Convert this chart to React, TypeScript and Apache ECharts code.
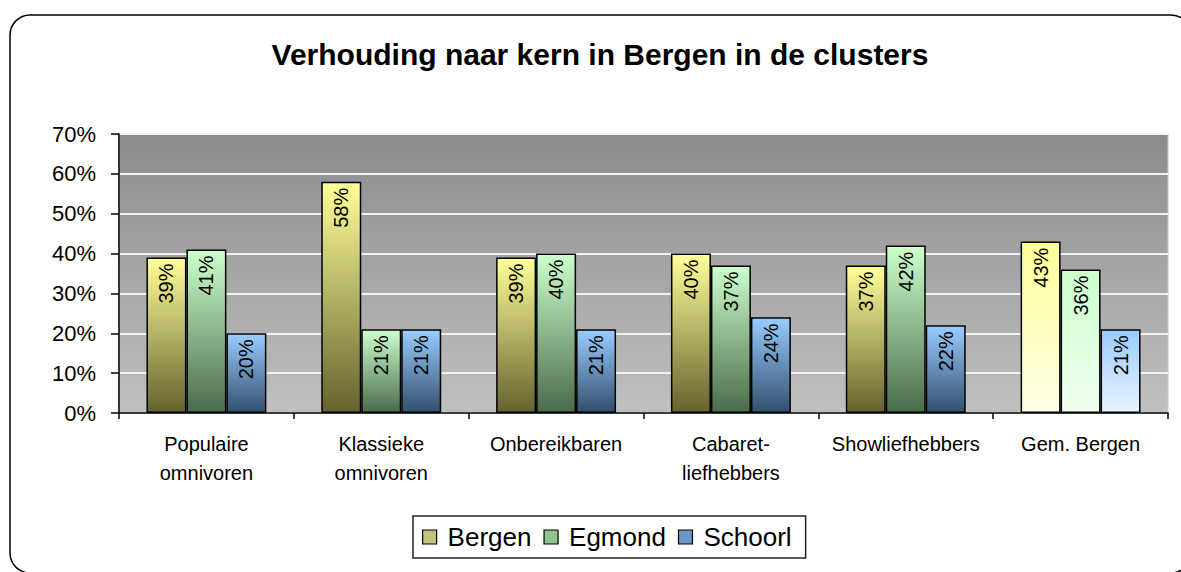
import React, { useEffect, useRef } from "react";
import * as echarts from "echarts";

const categories = [
  "Populaire\nomnivoren",
  "Klassieke\nomnivoren",
  "Onbereikbaren",
  "Cabaret-\nliefhebbers",
  "Showliefhebbers",
  "Gem. Bergen",
];
const bergen = [39, 58, 39, 40, 37, 43];
const egmond = [41, 21, 40, 37, 42, 36];
const schoorl = [20, 21, 21, 24, 22, 21];
const yTicks = [0, 10, 20, 30, 40, 50, 60, 70];

const FONT = "'Liberation Sans', Arial, sans-serif";

const grad = (top: string, bottom: string) =>
  new echarts.graphic.LinearGradient(0, 0, 0, 1, [
    { offset: 0, color: top },
    { offset: 1, color: bottom },
  ]);

const seriesDefs = [
  { name: "Bergen", values: bergen, top: "#ffff99", bottom: "#66622f", lastBottom: "#ffffe8", legend: "#c4c47a" },
  { name: "Egmond", values: egmond, top: "#ccffcc", bottom: "#4b6b4b", lastBottom: "#f0fff0", legend: "#8ec48e" },
  { name: "Schoorl", values: schoorl, top: "#99ccff", bottom: "#33506e", lastBottom: "#e8f3ff", legend: "#6c96c6" },
];

export default function App() {
  const ref = useRef<HTMLDivElement>(null);
  useEffect(() => {
    document.body.style.margin = "0";
    const chart = echarts.init(ref.current!, undefined, { renderer: "svg" });
    const last = categories.length - 1;
    chart.setOption({
      animation: false,
      backgroundColor: "#ffffff",
      textStyle: { fontFamily: FONT },
      grid: {
        left: 119,
        right: 13,
        top: 134,
        bottom: 159,
        containLabel: false,
        show: true,
        backgroundColor: grad("#8c8c8c", "#c0c0c0"),
        borderColor: "#c8c8c8",
        borderWidth: 1,
      },
      graphic: [
        {
          type: "rect",
          shape: { x: 10, y: 15, width: 1181, height: 558, r: 20 },
          style: { fill: "none", stroke: "#000", lineWidth: 1.5 },
          z: 100,
        },
        {
          type: "text",
          x: 600,
          y: 54,
          style: {
            text: "Verhouding naar kern in Bergen in de clusters",
            textAlign: "center",
            textVerticalAlign: "middle",
            font: `bold 30px ${FONT}`,
            fill: "#000",
          },
        },
      ],
      legend: {
        left: 413,
        top: 516,
        padding: [8, 14, 8, 9],
        borderColor: "#222",
        borderWidth: 1.5,
        itemWidth: 14,
        itemHeight: 14,
        itemGap: 12,
        icon: "rect",
        textStyle: { fontSize: 26, color: "#000", fontFamily: FONT, padding: [0, 0, 0, 6] },
        data: seriesDefs.map((s) => ({
          name: s.name,
          itemStyle: { color: s.legend, borderColor: "#000", borderWidth: 1.2 },
        })),
      },
      xAxis: {
        type: "category",
        data: categories,
        axisLine: { lineStyle: { color: "#000", width: 1.5 } },
        axisTick: { show: true, length: 6, lineStyle: { color: "#000", width: 1.5 } },
        axisLabel: { fontSize: 20, lineHeight: 29, color: "#000", margin: 16, interval: 0, fontFamily: FONT },
      },
      yAxis: {
        type: "value",
        min: 0,
        max: 70,
        interval: 10,
        axisLine: { show: true, lineStyle: { color: "#000", width: 1.5 } },
        axisTick: { show: true, length: 8, lineStyle: { color: "#000", width: 1.5 } },
        axisLabel: {
          fontSize: 22,
          color: "#000",
          margin: 23,
          fontFamily: FONT,
          formatter: (v: number) => (yTicks.includes(v) ? v + "%" : ""),
        },
        splitLine: { show: true, lineStyle: { color: "#f2f2f2", width: 2 } },
      },
      series: seriesDefs.map((s) => ({
        name: s.name,
        type: "bar",
        barGap: "0%",
        barCategoryGap: "31.4%",
        itemStyle: { color: grad(s.top, s.bottom), borderColor: "#000", borderWidth: 1.5 },
        label: {
          show: true,
          position: "insideTop",
          rotate: 90,
          align: "right",
          verticalAlign: "middle",
          distance: 6,
          fontSize: 20,
          color: "#000",
          fontFamily: FONT,
          formatter: (p: any) => p.value + "%",
        },
        data: s.values.map((v, i) =>
          i === last
            ? { value: v, itemStyle: { color: grad(s.top, s.lastBottom), borderColor: "#000", borderWidth: 1.5 } }
            : v
        ),
      })),
    });
    return () => chart.dispose();
  }, []);
  return <div ref={ref} style={{ width: 1181, height: 572 }} />;
}
